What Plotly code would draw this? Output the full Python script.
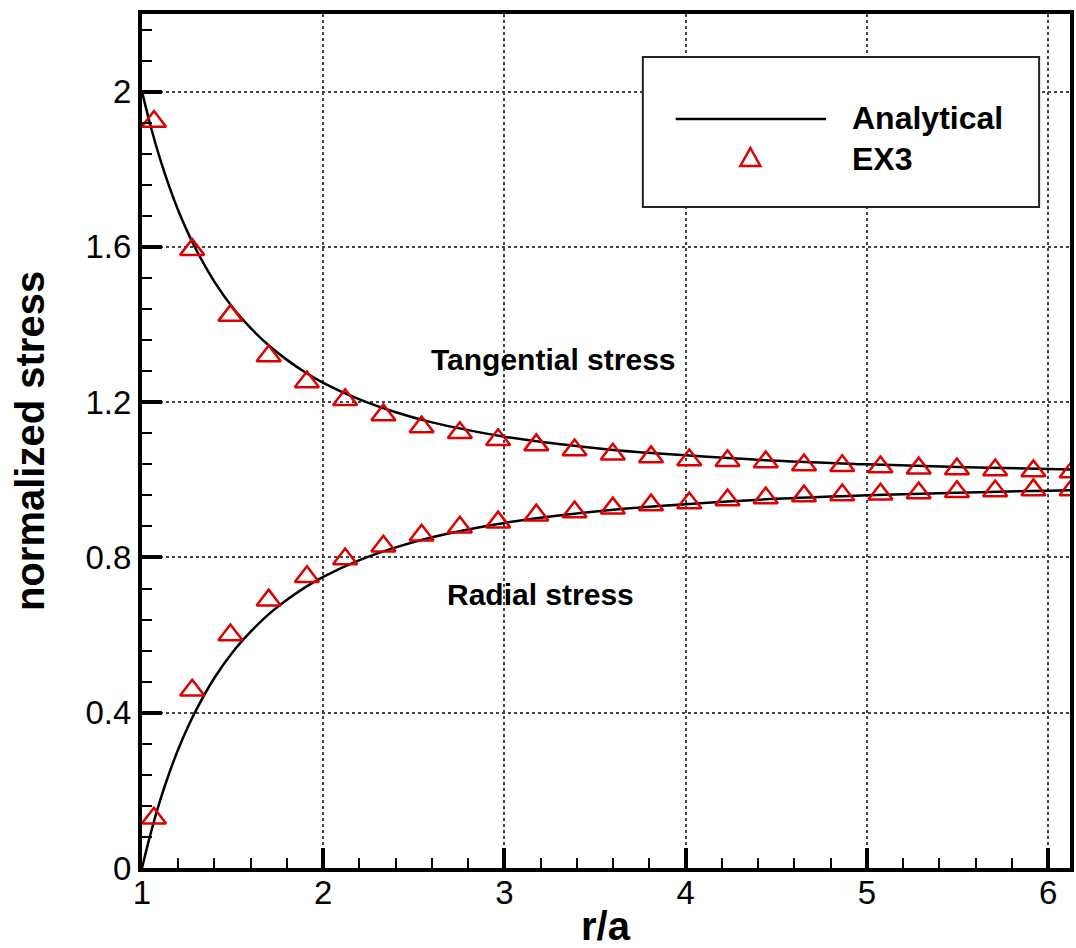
import plotly.graph_objects as go

# ---------------- data ----------------
r_line = [1.0, 1.05, 1.1, 1.15, 1.2, 1.25, 1.3, 1.4, 1.5, 1.6, 1.7, 1.8, 1.9, 2.0,
          2.2, 2.4, 2.6, 2.8, 3.0, 3.3, 3.6, 4.0, 4.5, 5.0, 5.5, 6.0, 6.2]
tangential_line = [2.0, 1.907, 1.826, 1.756, 1.694, 1.64, 1.592, 1.510, 1.444, 1.391,
                   1.346, 1.309, 1.277, 1.25, 1.207, 1.174, 1.148, 1.128, 1.111, 1.092,
                   1.077, 1.063, 1.049, 1.040, 1.033, 1.028, 1.026]
radial_line = [0.0, 0.093, 0.174, 0.244, 0.306, 0.36, 0.408, 0.490, 0.556, 0.609,
               0.654, 0.691, 0.723, 0.75, 0.793, 0.826, 0.852, 0.872, 0.889, 0.908,
               0.923, 0.937, 0.951, 0.960, 0.967, 0.972, 0.974]

r_ex3 = [1.066, 1.277, 1.488, 1.699, 1.910, 2.121, 2.332, 2.543, 2.754, 2.965,
         3.176, 3.387, 3.598, 3.809, 4.020, 4.231, 4.442, 4.653, 4.864, 5.075,
         5.286, 5.497, 5.708, 5.919, 6.130]
tangential_ex3 = [1.923, 1.593, 1.423, 1.319, 1.252, 1.206, 1.167, 1.136, 1.121, 1.103,
                  1.090, 1.077, 1.066, 1.059, 1.051, 1.049, 1.046, 1.038, 1.036, 1.033,
                  1.030, 1.028, 1.025, 1.023, 1.020]
radial_ex3 = [0.128, 0.458, 0.600, 0.690, 0.750, 0.796, 0.829, 0.857, 0.878, 0.891,
              0.909, 0.917, 0.927, 0.935, 0.940, 0.948, 0.953, 0.958, 0.961, 0.963,
              0.966, 0.969, 0.971, 0.974, 0.974]

x_ticks = [1, 2, 3, 4, 5, 6]
y_ticks = [0, 0.4, 0.8, 1.2, 1.6, 2.0]
y_tick_labels = ["0", "0.4", "0.8", "1.2", "1.6", "2"]

x_title = "r/a"
y_title = "normalized stress"
legend_names = ["Analytical", "EX3"]

# ---------------- layout constants ----------------
W, H = 1076, 948
ML, MR, MT, MB = 142, 2, 14, 80
PW, PH = W - ML - MR, H - MT - MB
FONT = "Liberation Sans, Arial, sans-serif"
RED = "#dd0000"


def px_x(p):
    return (p - ML) / PW


def px_y(p):
    return (H - MB - p) / PH


fig = go.Figure()

for ys in (tangential_line, radial_line):
    fig.add_trace(go.Scatter(x=r_line, y=ys, mode="lines", line_shape="spline",
                             line=dict(color="black", width=2.5),
                             showlegend=False, hoverinfo="skip"))

for ys in (tangential_ex3, radial_ex3):
    fig.add_trace(go.Scatter(x=r_ex3, y=ys, mode="markers",
                             marker=dict(symbol="triangle-up-open", size=21, color=RED,
                                         line=dict(color=RED, width=2.5)),
                             showlegend=False))

axis_common = dict(
    showline=True, linecolor="black", linewidth=4, mirror=True,
    ticks="inside", ticklen=20, tickwidth=4, tickcolor="black",
    showgrid=True, gridcolor="#444", gridwidth=1.5, griddash="dot",
    zeroline=False, tickfont=dict(family=FONT, size=33, color="black"),
)

fig.update_xaxes(range=[1, 1 + PW / 182.0], tickvals=x_ticks, ticklabelstandoff=-8,
                 minor=dict(ticks="inside", ticklen=10, tickwidth=1.5, tickcolor="black",
                            dtick=0.2, tick0=1, showgrid=False),
                 **axis_common)
fig.update_yaxes(range=[0, 2.2], tickvals=y_ticks, ticktext=y_tick_labels,
                 ticklabelstandoff=0,
                 minor=dict(ticks="inside", ticklen=10, tickwidth=1.5, tickcolor="black",
                            dtick=0.08, tick0=0, showgrid=False),
                 **axis_common)

annotations = [
    dict(text="<b>%s</b>" % x_title, xref="paper", yref="paper", x=0.5, y=0,
         yanchor="middle", yshift=-(926 - (H - MB)), showarrow=False,
         font=dict(family=FONT, size=40, color="black")),
    dict(text="<b>%s</b>" % y_title, xref="paper", yref="paper", x=0, y=0.5,
         xanchor="center", xshift=-(ML - 30), textangle=-90, showarrow=False,
         font=dict(family=FONT, size=40, color="black")),
    dict(text="<b>Tangential stress</b>", xref="x", yref="y", x=3.27, y=1.309,
         showarrow=False, font=dict(family=FONT, size=30, color="black")),
    dict(text="<b>Radial stress</b>", xref="x", yref="y", x=3.20, y=0.705,
         showarrow=False, font=dict(family=FONT, size=30, color="black")),
    dict(text="<b>%s</b>" % legend_names[0], xref="paper", yref="paper",
         x=px_x(853), y=px_y(118), xanchor="left", yanchor="middle", showarrow=False,
         font=dict(family=FONT, size=32, color="black")),
    dict(text="<b>%s</b>" % legend_names[1], xref="paper", yref="paper",
         x=px_x(853), y=px_y(159), xanchor="left", yanchor="middle", showarrow=False,
         font=dict(family=FONT, size=32, color="black")),
]

shapes = [
    dict(type="rect", xref="paper", yref="paper", layer="above",
         x0=px_x(645), x1=px_x(1043), y0=px_y(207), y1=px_y(57),
         fillcolor="white", line=dict(color="#222", width=2)),
    dict(type="line", xref="paper", yref="paper", layer="above",
         x0=px_x(678), x1=px_x(829), y0=px_y(119), y1=px_y(119),
         line=dict(color="black", width=2.5)),
    dict(type="path", xref="paper", yref="paper", layer="above",
         xsizemode="pixel", ysizemode="pixel",
         xanchor=px_x(753), yanchor=px_y(158),
         path="M -10,-8 L 10,-8 L 0,10 Z",
         line=dict(color=RED, width=2.5), fillcolor="rgba(0,0,0,0)"),
]

fig.update_layout(
    width=W, height=H,
    margin=dict(l=ML, r=MR, t=MT, b=MB),
    paper_bgcolor="white", plot_bgcolor="white",
    showlegend=False,
    annotations=annotations, shapes=shapes,
    font=dict(family=FONT, color="black"),
)

fig.write_html("out.html")
